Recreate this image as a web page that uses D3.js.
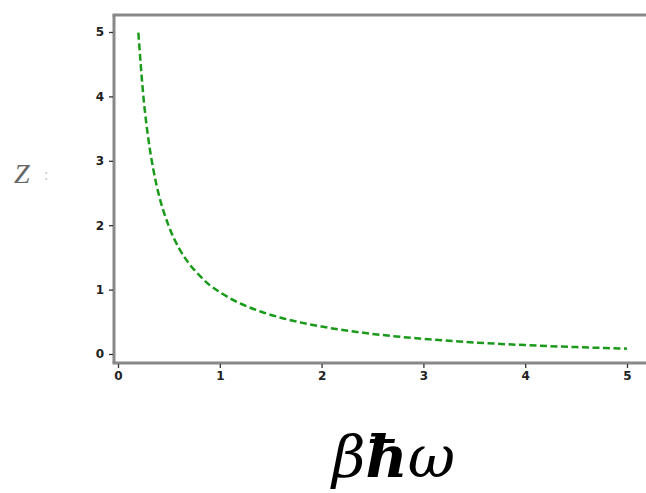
<!DOCTYPE html>
<html>
<head>
<meta charset="utf-8">
<script src="https://cdn.jsdelivr.net/npm/d3@7"></script>
<style>
  body { margin: 0; background: #fff; }
  svg { display: block; }
</style>
</head>
<body>
<div id="chart"></div>
<script>
// values (beta*hbar*omega vs Z)
const xVals = [0.2, 0.25, 0.3, 0.35, 0.4, 0.5, 0.6, 0.7, 0.8, 0.9, 1.0, 1.2, 1.4, 1.6, 1.8, 2.0, 2.5, 3.0, 3.5, 4.0, 4.5, 5.0];
const zVals = [4.99, 3.99, 3.32, 2.84, 2.48, 1.98, 1.64, 1.40, 1.22, 1.07, 0.96, 0.785, 0.66, 0.563, 0.487, 0.426, 0.312, 0.235, 0.179, 0.138, 0.107, 0.083];
const xTicks = [0, 1, 2, 3, 4, 5];
const yTicks = [0, 1, 2, 3, 4, 5];

const W = 646, H = 493;
const svg = d3.select("#chart").append("svg")
    .attr("width", W)
    .attr("height", H);

const xScale = d3.scaleLinear().domain([0, 5]).range([118, 627]);
const yScale = d3.scaleLinear().domain([0, 5]).range([354, 32]);

// frame: left, bottom, top (right side runs off the picture)
const frameL = 114, frameT = 15, frameB = 363;
const frameColor = "#888";
svg.append("line").attr("x1", frameL).attr("y1", frameT).attr("x2", frameL).attr("y2", frameB)
    .attr("stroke", frameColor).attr("stroke-width", 3);
svg.append("line").attr("x1", frameL - 1.5).attr("y1", frameB).attr("x2", W).attr("y2", frameB)
    .attr("stroke", frameColor).attr("stroke-width", 3);
svg.append("line").attr("x1", frameL - 1.5).attr("y1", frameT).attr("x2", W).attr("y2", frameT)
    .attr("stroke", frameColor).attr("stroke-width", 3);

// axes
const xAxis = svg.append("g")
    .attr("transform", `translate(0,${frameB + 1})`)
    .call(d3.axisBottom(xScale).tickValues(xTicks).tickSize(4).tickPadding(3).tickFormat(d3.format("d")));
const yAxis = svg.append("g")
    .attr("transform", `translate(${frameL - 1},0)`)
    .call(d3.axisLeft(yScale).tickValues(yTicks).tickSize(4).tickPadding(5).tickFormat(d3.format("d")));

[xAxis, yAxis].forEach(ax => {
    ax.select(".domain").remove();
    ax.selectAll(".tick line").attr("stroke", "#333").attr("stroke-width", 1.3);
    ax.selectAll(".tick text")
        .attr("fill", "#222")
        .style("font-family", "DejaVu Sans")
        .style("font-size", "12px")
        .style("font-weight", "bold");
});

// curve
const line = d3.line()
    .x(d => xScale(d[0]))
    .y(d => yScale(d[1]))
    .curve(d3.curveMonotoneX);

svg.append("path")
    .datum(xVals.map((x, i) => [x, zVals[i]]))
    .attr("d", line)
    .attr("fill", "none")
    .attr("stroke", "#1a9a1a")
    .attr("stroke-width", 2.5)
    .attr("stroke-dasharray", "7,3.5");

// labels
svg.append("text")
    .attr("x", 14).attr("y", 183)
    .style("font-family", "Liberation Serif")
    .style("font-style", "italic")
    .style("font-size", "28px")
    .attr("fill", "#666")
    .text("Z");
svg.append("text")
    .attr("x", 44).attr("y", 180)
    .style("font-family", "Liberation Serif")
    .style("font-size", "16px")
    .attr("fill", "#ccc")
    .text(":");

svg.append("text")
    .attr("x", 332).attr("y", 477)
    .style("font-family", "DejaVu Serif")
    .style("font-style", "italic")
    .style("font-size", "58px")
    .attr("fill", "#000")
    .text("β")
  .append("tspan")
    .style("font-weight", "bold")
    .text("ħ")
  .append("tspan")
    .style("font-weight", "normal")
    .text("ω");
</script>
</body>
</html>
